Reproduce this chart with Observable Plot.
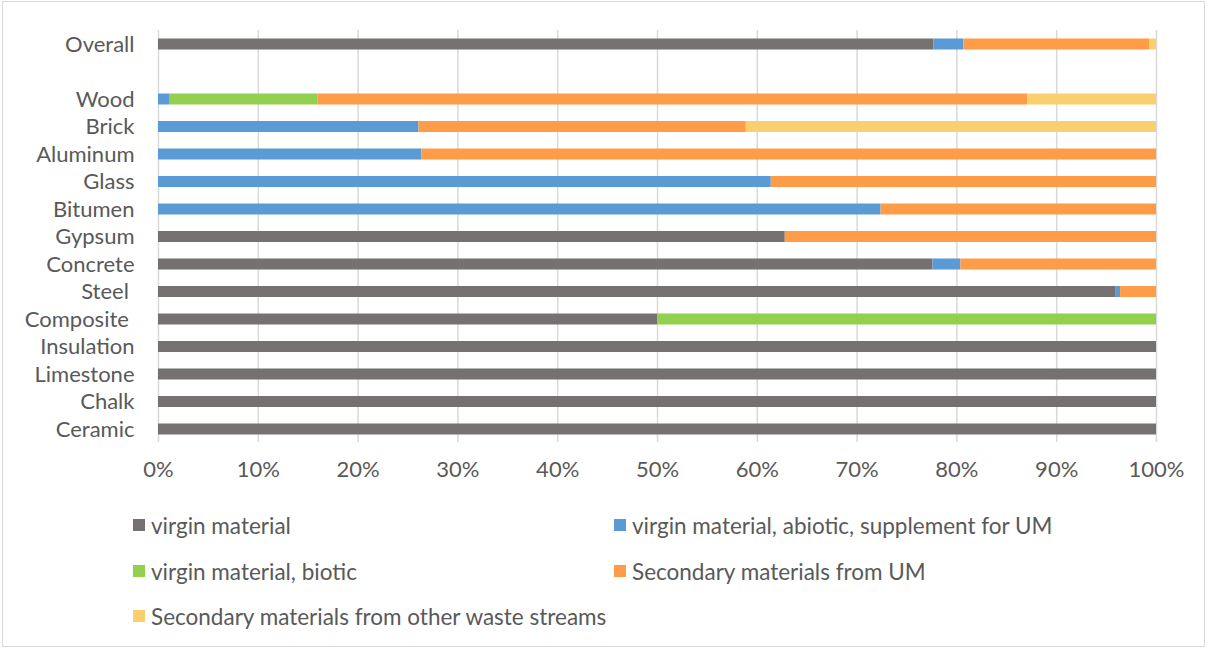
<!DOCTYPE html>
<html>
<head>
<meta charset="utf-8">
<script src="https://cdn.jsdelivr.net/npm/d3@7"></script>
<script src="https://cdn.jsdelivr.net/npm/@observablehq/plot@0.6"></script>
<style>
  html, body { margin: 0; padding: 0; background: #fff; }
  #wrap { position: relative; width: 1212px; height: 650px; overflow: hidden; font-family: Lato, "Open Sans", sans-serif; color: #595959; }
  #frame { position: absolute; left: 2px; top: 1px; width: 1203px; height: 646px; border: 1px solid #d9d9d9; box-sizing: border-box; pointer-events: none; }
  #chart { position: absolute; left: 0; top: 0; }
  .legend-item { position: absolute; display: flex; align-items: center; font-size: 22.5px; white-space: nowrap; }
  .legend-item .sw { width: 12px; height: 12px; margin-right: 6px; flex: none; }
</style>
</head>
<body>
<div id="wrap">
  <div id="chart"></div>
  <div id="legend"></div>
  <div id="frame"></div>
</div>
<script>
// Material categories, top to bottom ("" is the spacer row under Overall)
const categories = ["Overall", "", "Wood", "Brick", "Aluminum", "Glass", "Bitumen", "Gypsum",
  "Concrete", "Steel ", "Composite ", "Insulation", "Limestone", "Chalk", "Ceramic"];

const seriesNames = [
  "virgin material",
  "virgin material, abiotic, supplement for UM",
  "virgin material, biotic",
  "Secondary materials from UM",
  "Secondary materials from other waste streams"
];

const seriesColors = ["#767171", "#5b9bd5", "#92d050", "#ff9c48", "#fad06e"];

// Shares in percent, one value per category (same order as categories)
const virginMaterial   = [77.7, 0, 0,    0,    0,    0,    0,    62.8, 77.6, 95.9, 50, 100, 100, 100, 100];
const virginAbiotic    = [3.0,  0, 1.1,  26.1, 26.4, 61.4, 72.4, 0,    2.8,  0.5,  0,  0,   0,   0,   0];
const virginBiotic     = [0,    0, 14.9, 0,    0,    0,    0,    0,    0,    0,    50, 0,   0,   0,   0];
const secondaryFromUM  = [18.6, 0, 71.1, 32.8, 73.6, 38.6, 27.6, 37.2, 19.6, 3.6,  0,  0,   0,   0,   0];
const secondaryOther   = [0.7,  0, 12.9, 41.1, 0,    0,    0,    0,    0,    0,    0,  0,   0,   0,   0];

const seriesValues = [virginMaterial, virginAbiotic, virginBiotic, secondaryFromUM, secondaryOther];

const xTicks = [0, 10, 20, 30, 40, 50, 60, 70, 80, 90, 100];

// Long table for stacking
const rows = [];
seriesNames.forEach((s, si) => {
  categories.forEach((c, ci) => {
    const v = seriesValues[si][ci];
    if (c !== "" && v > 0) rows.push({category: c, series: s, value: v / 100});
  });
});

const W = 1212, H = 495;
const chart = Plot.plot({
  width: W,
  height: H,
  marginLeft: 158,
  marginRight: 56,
  marginTop: 30,
  marginBottom: 53,
  style: {fontFamily: "Lato, 'Open Sans', sans-serif", fontSize: "22px", color: "#595959", background: "transparent"},
  x: {domain: [0, 1], label: null},
  y: {domain: categories, range: [33, 440], paddingInner: 0.6, paddingOuter: 0.2, round: false, label: null},
  color: {domain: seriesNames, range: seriesColors},
  marks: [
    Plot.ruleX(xTicks, {x: d => d / 100, stroke: "#d9d9d9", strokeWidth: 1.5}),
    Plot.barX(rows, Plot.stackX({
      x: "value", y: "category", fill: "series",
      order: seriesNames
    })),
    Plot.axisY({
      tickSize: 0, tickPadding: 24,
      tickFormat: d => d.replace(/ $/, "\u00a0"),
      fill: "#595959", fontSize: 22
    }),
    Plot.axisX({
      ticks: xTicks.map(d => d / 100), tickFormat: d => Math.round(d * 100) + "%",
      tickSize: 0, tickPadding: 19, fill: "#595959", fontSize: 22
    })
  ]
});
document.getElementById("chart").appendChild(chart);

// Legend laid out in two columns below the plot
const legendPos = [
  [133, 526], [614, 526],
  [133, 572], [614, 572],
  [133, 617]
];
const legend = document.getElementById("legend");
seriesNames.forEach((s, i) => {
  const item = document.createElement("div");
  item.className = "legend-item";
  item.style.left = legendPos[i][0] + "px";
  item.style.top = (legendPos[i][1] - 16) + "px";
  item.style.height = "30px";
  const sw = document.createElement("span");
  sw.className = "sw";
  sw.style.background = seriesColors[i];
  const tx = document.createElement("span");
  tx.textContent = s;
  item.appendChild(sw);
  item.appendChild(tx);
  legend.appendChild(item);
});
</script>
</body>
</html>
